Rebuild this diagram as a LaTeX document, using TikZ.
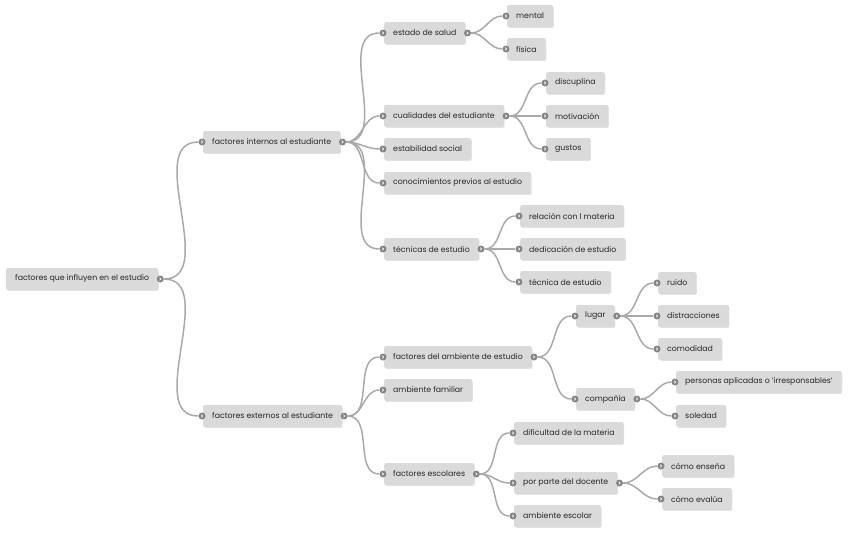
\documentclass[tikz,border=0pt]{standalone}
\usepackage{fontspec}
\setmainfont{Poppins}
\usetikzlibrary{shadows}

\definecolor{boxfill}{HTML}{DADADA}
\definecolor{linegray}{HTML}{A9A9A9}
\definecolor{knobgray}{HTML}{858585}
\definecolor{textgray}{HTML}{262626}

\tikzset{
	topic/.style={fill=boxfill, rounded corners=2pt, anchor=west, text=textgray,
		inner xsep=9pt, minimum height=22pt, font=\fontsize{7.8}{9}\selectfont,
		drop shadow={opacity=0.22, shadow xshift=0.7pt, shadow yshift=-0.9pt}},
	knob/.style={circle, fill=knobgray, inner sep=0pt, minimum size=7pt,
		path picture={\draw[white, line width=0.6pt]
			([xshift=-0.7pt,yshift=1.3pt]path picture bounding box.center) --
			([xshift=0.7pt]path picture bounding box.center) --
			([xshift=-0.7pt,yshift=-1.3pt]path picture bounding box.center);}},
	branch/.style={draw=linegray, line width=1.5pt},
}

\newcommand{\inknob}[1]{\node[knob] (#1_in) at ([xshift=-1pt]#1.west) {};}
\newcommand{\outknob}[1]{\node[knob] (#1_out) at ([xshift=2pt]#1.east) {};}

\begin{document}
\begin{tikzpicture}[x=1pt, y=-1pt]

	\useasboundingbox (0,0) rectangle (848,533);

	%% Root
	\node[topic] (root) at (6,279) {factores que influyen en el estudio};
	\outknob{root}

	%% Internal factors
	\node[topic] (intern) at (203,142) {factores internos al estudiante};
	\inknob{intern} \outknob{intern}

	\node[topic] (salud) at (384,33) {estado de salud};
	\node[topic] (cualid) at (384,116) {cualidades del estudiante};
	\node[topic] (estab) at (384,149) {estabilidad social};
	\node[topic] (conoc) at (384,183) {conocimientos previos al estudio};
	\node[topic] (tecn) at (384,249) {técnicas de estudio};
	\inknob{salud} \outknob{salud}
	\inknob{cualid} \outknob{cualid}
	\inknob{estab}
	\inknob{conoc}
	\inknob{tecn} \outknob{tecn}

	\node[topic] (mental) at (507,16) {mental};
	\node[topic] (fisica) at (507,49) {física};
	\inknob{mental} \inknob{fisica}

	\node[topic] (discip) at (546,83) {discuplina};
	\node[topic] (motiv) at (546,116) {motivación};
	\node[topic] (gustos) at (546,149) {gustos};
	\inknob{discip} \inknob{motiv} \inknob{gustos}

	\node[topic] (relac) at (520,216) {relación con l materia};
	\node[topic] (dedic) at (520,249) {dedicación de estudio};
	\node[topic] (tecest) at (520,282) {técnica de estudio};
	\inknob{relac} \inknob{dedic} \inknob{tecest}

	%% External factors
	\node[topic] (extern) at (203,416) {factores externos al estudiante};
	\inknob{extern} \outknob{extern}

	\node[topic] (ambest) at (384,357) {factores del ambiente de estudio};
	\node[topic] (famil) at (384,390) {ambiente familiar};
	\node[topic] (escol) at (384,474) {factores escolares};
	\inknob{ambest} \outknob{ambest}
	\inknob{famil}
	\inknob{escol} \outknob{escol}

	\node[topic] (lugar) at (576,316) {lugar};
	\node[topic] (compan) at (576,399) {compañía};
	\inknob{lugar} \outknob{lugar}
	\inknob{compan} \outknob{compan}

	\node[topic] (ruido) at (658,283) {ruido};
	\node[topic] (distr) at (658,316) {distracciones};
	\node[topic] (comod) at (658,349) {comodidad};
	\inknob{ruido} \inknob{distr} \inknob{comod}

	\node[topic] (person) at (676,382) {personas aplicadas o 'irresponsables'};
	\node[topic] (soled) at (676,416) {soledad};
	\inknob{person} \inknob{soled}

	\node[topic] (dific) at (514,433) {dificultad de la materia};
	\node[topic] (docen) at (514,483) {por parte del docente};
	\node[topic] (ambesc) at (514,516) {ambiente escolar};
	\inknob{dific}
	\inknob{docen} \outknob{docen}
	\inknob{ambesc}

	\node[topic] (ensena) at (662,466) {cómo enseña};
	\node[topic] (evalua) at (662,499) {cómo evalúa};
	\inknob{ensena} \inknob{evalua}

	%% Branches
	\draw[branch] (root_out) to[out=0,in=180] (intern_in);
	\draw[branch] (root_out) to[out=0,in=180] (extern_in);

	\draw[branch] (intern_out) to[out=0,in=180] (salud_in);
	\draw[branch] (intern_out) to[out=0,in=180] (cualid_in);
	\draw[branch] (intern_out) to[out=0,in=180] (estab_in);
	\draw[branch] (intern_out) to[out=0,in=180] (conoc_in);
	\draw[branch] (intern_out) to[out=0,in=180] (tecn_in);

	\draw[branch] (salud_out) to[out=0,in=180] (mental_in);
	\draw[branch] (salud_out) to[out=0,in=180] (fisica_in);
	\draw[branch] (cualid_out) to[out=0,in=180] (discip_in);
	\draw[branch] (cualid_out) to[out=0,in=180] (motiv_in);
	\draw[branch] (cualid_out) to[out=0,in=180] (gustos_in);
	\draw[branch] (tecn_out) to[out=0,in=180] (relac_in);
	\draw[branch] (tecn_out) to[out=0,in=180] (dedic_in);
	\draw[branch] (tecn_out) to[out=0,in=180] (tecest_in);

	\draw[branch] (extern_out) to[out=0,in=180] (ambest_in);
	\draw[branch] (extern_out) to[out=0,in=180] (famil_in);
	\draw[branch] (extern_out) to[out=0,in=180] (escol_in);

	\draw[branch] (ambest_out) to[out=0,in=180] (lugar_in);
	\draw[branch] (ambest_out) to[out=0,in=180] (compan_in);
	\draw[branch] (lugar_out) to[out=0,in=180] (ruido_in);
	\draw[branch] (lugar_out) to[out=0,in=180] (distr_in);
	\draw[branch] (lugar_out) to[out=0,in=180] (comod_in);
	\draw[branch] (compan_out) to[out=0,in=180] (person_in);
	\draw[branch] (compan_out) to[out=0,in=180] (soled_in);

	\draw[branch] (escol_out) to[out=0,in=180] (dific_in);
	\draw[branch] (escol_out) to[out=0,in=180] (docen_in);
	\draw[branch] (escol_out) to[out=0,in=180] (ambesc_in);
	\draw[branch] (docen_out) to[out=0,in=180] (ensena_in);
	\draw[branch] (docen_out) to[out=0,in=180] (evalua_in);

\end{tikzpicture}
\end{document}
